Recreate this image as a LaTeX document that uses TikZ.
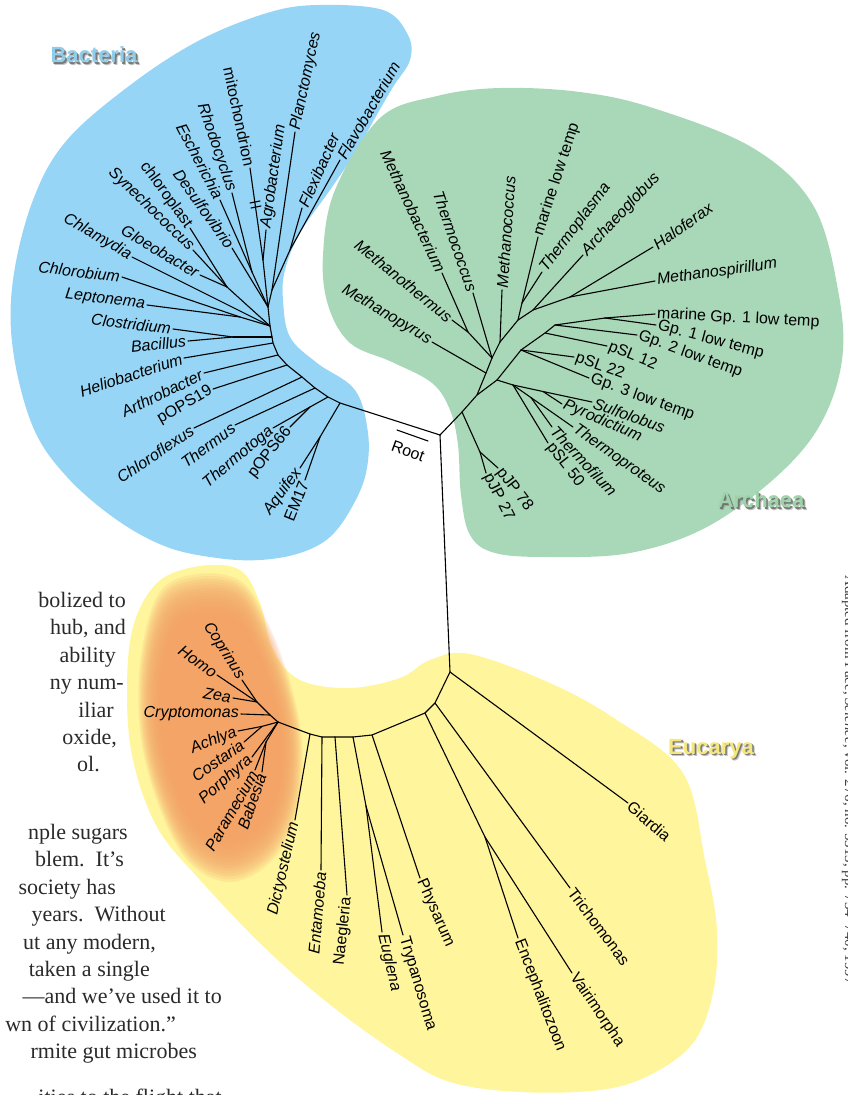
\documentclass[tikz,border=0pt]{standalone}
\usepackage{fontspec}
\setmainfont{Liberation Serif}
\newfontfamily\lsans{Liberation Sans}
\definecolor{bactblue}{HTML}{96D5F5}
\definecolor{archgreen}{HTML}{A9D8B9}
\definecolor{eucyel}{HTML}{FFF59D}
\definecolor{eucorg}{HTML}{F3A266}
\definecolor{bactlbl}{HTML}{8FCDEB}
\definecolor{archlbl}{HTML}{9ED3A9}
\definecolor{euclbl}{HTML}{F6E77C}
\definecolor{bodytext}{HTML}{2A2A2A}
\newcommand{\leaf}[6]{\coordinate (#1) at (#3); \draw[br] (#2) -- (#1); \node[lbl,rotate=#4,anchor=#5] (#1L) at (#1) {#6};}
\newcommand{\domlbl}[4]{%
  \node[dom,text=black!45,opacity=0.5,xshift=2.6pt,yshift=-2.6pt] (#1s2) at (#2) {#4};
  \node[dom,text=black!60,opacity=0.8,xshift=1.6pt,yshift=-1.6pt] (#1s) at (#2) {#4};
  \node[dom,text=#3] (#1) at (#2) {#4};}
\begin{document}
\begin{tikzpicture}[x=1pt,y=-1pt,
  br/.style={line width=1.1pt,line cap=round,line join=round},
  lbl/.style={font=\lsans\fontsize{16}{18}\selectfont,inner sep=2pt},
  dom/.style={font=\lsans\bfseries\fontsize{22}{26}\selectfont,inner sep=0pt},
  body/.style={font=\fontsize{22}{26}\selectfont,text=bodytext,anchor=base east,inner sep=0pt}]
\useasboundingbox (0,0) rectangle (848,1095);
\clip (0,0) rectangle (848,1095);

% ---------- blobs ----------
\fill[bactblue] plot[smooth cycle,tension=0.6] coordinates {(13,280) (33,200) (67,140) (133,83) (200,40) (267,13) (317,5) (383,10) (408,35) (410,60) (393,87) (375,118) (357,150) (330,190) (300,233) (285,270) (283,300) (290,337) (317,363) (355,390) (368,433) (366,473) (352,507) (330,537) (300,553) (260,560) (217,558) (167,547) (117,520) (67,477) (33,427) (13,350)};
\fill[archgreen] plot[smooth cycle,tension=0.6] coordinates {(323,255) (335,190) (380,118) (437,96) (500,88) (580,92) (653,108) (753,148) (813,205) (838,290) (842,360) (820,425) (775,478) (705,528) (630,553) (550,557) (495,553) (470,535) (461,495) (458,445) (450,410) (432,383) (392,362) (350,343) (328,305)};
\fill[eucyel] plot[smooth cycle,tension=0.6] coordinates {(158,582) (200,566) (240,570) (260,603) (273,650) (300,680) (350,688) (400,678) (430,660) (470,654) (550,683) (617,720) (683,773) (705,860) (717,930) (713,993) (693,1043) (650,1075) (600,1090) (520,1092) (450,1082) (400,1055) (333,1007) (267,950) (200,880) (157,827) (133,760) (127,693) (133,627)};
\foreach \s in {1.10,1.08,1.06,1.04,1.02,1.0,0.98,0.96,0.94,0.92,0.90,0.88,0.86,0.84,0.82,0.80}{
  \begin{scope}[shift={(222,728)},scale=\s,shift={(-222,-728)}]
  \fill[eucorg,opacity=0.16] plot[smooth cycle,tension=0.6] coordinates {(165,605) (200,588) (240,595) (265,635) (285,690) (295,745) (290,805) (268,848) (230,868) (192,850) (165,800) (148,735) (148,665)};
  \end{scope}}

% ---------- domain labels ----------
\domlbl{bact}{94,55}{bactlbl}{Bacteria}
\domlbl{arch}{761,500}{archlbl}{Archaea}
\domlbl{euc}{711,749}{euclbl}{Eucarya}

% ---------- root ----------
\coordinate (R) at (440,435);
\coordinate (ro1) at (397,430); \coordinate (ro2) at (428,441);
\draw[br] (ro1) -- (ro2);
\node[lbl,rotate=-20] (rootL) at (408,451) {Root};

% ---------- Bacteria ----------
\coordinate (b1) at (340,403); \coordinate (b2) at (328,397); \coordinate (b3) at (315,388);
\coordinate (b4) at (302,377); \coordinate (b5) at (287,365); \coordinate (b6) at (278,355);
\coordinate (b7) at (273,343); \coordinate (b8) at (272,337); \coordinate (b9) at (270,326);
\coordinate (b10) at (268,307); \coordinate (b12) at (272,290);
\coordinate (fx) at (290,250); \coordinate (ma) at (263,260); \coordinate (re) at (252,272);
\coordinate (cy) at (227,287); \coordinate (lp) at (240,317); \coordinate (cb) at (233,337);
\coordinate (tt) at (310,407); \coordinate (em) at (320,437);
\draw[br] (R) -- (b1) -- (b2) -- (b3) -- (b4) -- (b5) -- (b6) -- (b7) -- (b8) -- (b9) -- (b10) -- (b12);
\draw[br] (fx) -- (b12); \draw[br] (ma) -- (b10); \draw[br] (re) -- (b10);
\draw[br] (cy) -- (b9); \draw[br] (lp) -- (b9); \draw[br] (cb) -- (b8);
\draw[br] (tt) -- (b2); \draw[br] (em) -- (b1);
\leaf{flavo}{fx}{340,160}{60}{west}{\textit{Flavobacterium}}
\leaf{flexi}{fx}{302,208}{66}{west}{\textit{Flexibacter}}
\leaf{plancto}{b12}{295,132}{78}{west}{\textit{Planctomyces}}
\leaf{agro}{ma}{266,230}{82}{west}{\textit{Agrobacterium}}
\leaf{mito}{ma}{250,168}{-78}{east}{mitochondrion}
\leaf{rhodo}{re}{232,193}{-71}{east}{\textit{Rhodocyclus}}
\leaf{esch}{re}{220,200}{-62.5}{east}{\textit{Escherichia}}
\leaf{desulfo}{b10}{232,248}{-54.5}{east}{\textit{Desulfovibrio}}
\leaf{chloro}{cy}{190,228}{-54}{east}{chloroplast}
\leaf{synecho}{cy}{193,250}{-44}{east}{\textit{Synechococcus}}
\leaf{gloeo}{cy}{200,275}{-31}{east}{\textit{Gloeobacter}}
\leaf{chlamy}{b9}{132,257}{-30}{east}{\textit{Chlamydia}}
\leaf{chlorob}{lp}{122,277}{-7}{east}{\textit{Chlorobium}}
\leaf{lepto}{lp}{147,305}{-7}{east}{\textit{Leptonema}}
\leaf{clost}{cb}{173,329}{-7}{east}{\textit{Clostridium}}
\leaf{bacil}{cb}{188,341}{6}{east}{\textit{Bacillus}}
\leaf{helio}{b7}{184,358}{18}{east}{\textit{Heliobacterium}}
\leaf{arthro}{b6}{204,373}{26}{east}{\textit{Arthrobacter}}
\leaf{pops19}{b5}{213,389}{30}{east}{pOPS19}
\leaf{chlflex}{b4}{194,428}{34}{east}{\textit{Chloroflexus}}
\leaf{thermus}{b3}{235,425}{37}{east}{\textit{Thermus}}
\leaf{thtoga}{tt}{273,428}{40}{east}{\textit{Thermotoga}}
\leaf{pops66}{tt}{290,427}{52}{east}{pOPS66}
\leaf{aquifex}{em}{300,468}{54}{east}{\textit{Aquifex}}
\leaf{em17}{em}{305,480}{68}{east}{EM17}
% mitochondrion break mark
\coordinate (mk1) at (250,203); \coordinate (mk2) at (260,201);
\coordinate (mk3) at (251,208); \coordinate (mk4) at (261,206);
\draw[br] (mk1) -- (mk2); \draw[br] (mk3) -- (mk4);

% ---------- Archaea ----------
\coordinate (a1) at (462,412); \coordinate (a2) at (477,395);
\coordinate (e0) at (486,373); \coordinate (e1) at (492,358); \coordinate (e2) at (500,342);
\coordinate (e3) at (518,320); \coordinate (e4) at (533,310); \coordinate (e5) at (570,297);
\coordinate (m1) at (468,332); \coordinate (t1) at (522,303);
\coordinate (g0) at (497,380); \coordinate (g1) at (521,350); \coordinate (g2) at (545,333);
\coordinate (g3) at (555,325); \coordinate (g4) at (605,318);
\coordinate (c1) at (513,385); \coordinate (sp) at (543,391.5); \coordinate (tp) at (531,397.6);
\coordinate (pj) at (480,452);
\draw[br] (R) -- (a1) -- (a2) -- (e0) -- (e1) -- (e2) -- (e3) -- (e4) -- (e5);
\draw[br] (m1) -- (e1); \draw[br] (t1) -- (e3); \draw[br] (a1) -- (pj);
\draw[br] (a2) -- (g0) -- (g1) -- (g2) -- (g3) -- (g4);
\draw[br] (g0) -- (c1); \draw[br] (sp) -- (c1); \draw[br] (tp) -- (c1);
\leaf{mpyrus}{e0}{432,342}{-31}{east}{\textit{Methanopyrus}}
\leaf{mtherm}{m1}{452,320}{-39}{east}{\textit{Methanothermus}}
\leaf{mbact}{m1}{442,273}{-65}{east}{\textit{Methanobacterium}}
\leaf{tcoccus}{e1}{473,293}{-71}{east}{\textit{Thermococcus}}
\leaf{mcoccus}{e2}{502,290}{86}{west}{\textit{Methanococcus}}
\leaf{mlt}{t1}{538,237}{72}{west}{marine low temp}
\leaf{tplasma}{t1}{542,272}{53}{west}{\textit{Thermoplasma}}
\leaf{archglob}{e4}{583,255}{47}{west}{\textit{Archaeoglobus}}
\leaf{halo}{e5}{653,247}{35}{west}{\textit{Haloferax}}
\leaf{mspir}{e5}{655,281}{8}{west}{\textit{Methanospirillum}}
\leaf{mgp1}{g4}{655,314}{-3}{west}{marine Gp. 1 low temp}
\leaf{gp1}{g4}{656,325}{-15}{west}{Gp. 1 low temp}
\leaf{gp2}{g3}{637,335}{-20}{west}{Gp. 2 low temp}
\leaf{psl12}{g2}{607,346}{-22}{west}{pSL 12}
\leaf{psl22}{g1}{574,357}{-20}{west}{pSL 22}
\leaf{gp3}{g1}{589,378}{-20}{west}{Gp. 3 low temp}
\leaf{sulfo}{sp}{592,402}{-20}{west}{\textit{Sulfolobus}}
\leaf{pyro}{sp}{562,404}{-23}{west}{\textit{Pyrodictium}}
\leaf{tproteus}{tp}{573,427}{-35}{west}{\textit{Thermoproteus}}
\leaf{tfilum}{tp}{552,427}{-47}{west}{\textit{Thermofilum}}
\leaf{psl50}{c1}{548,443}{-52}{west}{pSL 50}
\leaf{pjp78}{pj}{498,468}{-53}{west}{pJP 78}
\leaf{pjp27}{pj}{486,473}{-63}{west}{pJP 27}

% ---------- Eucarya ----------
\coordinate (E0) at (450,672); \coordinate (E1) at (435,703); \coordinate (E2) at (425,713);
\coordinate (E3) at (372,735); \coordinate (E4) at (353,737); \coordinate (E5) at (335,737);
\coordinate (E6) at (322,737); \coordinate (E7) at (310,734); \coordinate (K) at (278,722);
\coordinate (mi) at (485,837); \coordinate (eu) at (366,806);
\coordinate (k1) at (257,702); \coordinate (k2) at (270,715); \coordinate (k3) at (262,726.4);
\coordinate (k4) at (266,742);
\draw[br] (R) -- (E0) -- (E1) -- (E2) -- (E3) -- (E4) -- (E5) -- (E6) -- (E7) -- (K);
\draw[br] (E2) -- (mi); \draw[br] (E4) -- (eu);
\draw[br] (k1) -- (k2) -- (K); \draw[br] (k3) -- (K); \draw[br] (k4) -- (K);
\leaf{giardia}{E0}{628,803}{-41}{west}{Giardia}
\leaf{tricho}{E1}{570,888}{-53}{west}{Trichomonas}
\leaf{enceph}{mi}{518,938}{-69}{west}{Encephalitozoon}
\leaf{vairi}{mi}{572,973}{-56}{west}{Vairimorpha}
\leaf{physa}{E3}{420,878}{-66}{west}{Physarum}
\leaf{trypa}{eu}{403,935}{-73.5}{west}{Trypanosoma}
\leaf{eugl}{eu}{382,932}{-77}{west}{\textit{Euglena}}
\leaf{naeg}{E5}{347,895}{84}{east}{Naegleria}
\leaf{entam}{E6}{321,870}{85}{east}{\textit{Entamoeba}}
\leaf{dicty}{E7}{295,820}{77}{east}{\textit{Dictyostelium}}
\leaf{crypto}{k2}{241,714}{0}{east}{\textit{Cryptomonas}}
\leaf{zea}{k1}{233,698}{-10}{east}{\textit{Zea}}
\leaf{homo}{k1}{217,675}{-35}{east}{\textit{Homo}}
\leaf{copri}{k1}{242,680}{-58}{east}{\textit{Coprinus}}
\leaf{achlya}{k3}{238,731}{22}{east}{\textit{Achlya}}
\leaf{costa}{k3}{244,742}{35}{east}{\textit{Costaria}}
\leaf{porph}{K}{252,757}{41}{east}{\textit{Porphyra}}
\leaf{param}{k4}{255,770}{60}{east}{\textit{Paramecium}}
\leaf{babes}{k4}{262,772}{71}{east}{\textit{Babesia}}

% ---------- body text (cut at left) ----------
\node[body] (t1a) at (126,607) {bolized to};
\node[body] (t1b) at (126,634) {hub, and};
\node[body] (t1c) at (116,662) {ability};
\node[body] (t1d) at (124,689) {ny num-};
\node[body] (t1e) at (114,717) {iliar};
\node[body] (t1f) at (117,744) {oxide,};
\node[body] (t1g) at (100,771) {ol.};
\node[body] (t2a) at (128,839) {nple sugars};
\node[body] (t2b) at (124,866) {blem.\ \ It’s};
\node[body] (t2c) at (116,894) {society has};
\node[body] (t2d) at (166,921) {years.\ \ Without};
\node[body] (t2e) at (156,949) {ut any modern,};
\node[body] (t2f) at (150,976) {taken a single};
\node[body] (t2g) at (222,1003) {—and we’ve used it to};
\node[body] (t2h) at (176,1031) {wn of civilization.”};
\node[body] (t2i) at (197,1058) {rmite gut microbes};
\node[body] (t2j) at (222,1104) {ities to the flight that};

% ---------- credit (cut at right) ----------
\node[font=\fontsize{15}{18}\selectfont,text=black!75,rotate=-90,anchor=base west,inner sep=0pt] (credit) at (845,575) {Adapted from Pace, \textit{Science}, vol. 276, no. 5313, pp. 734–740, 1997};
\end{tikzpicture}
\end{document}
